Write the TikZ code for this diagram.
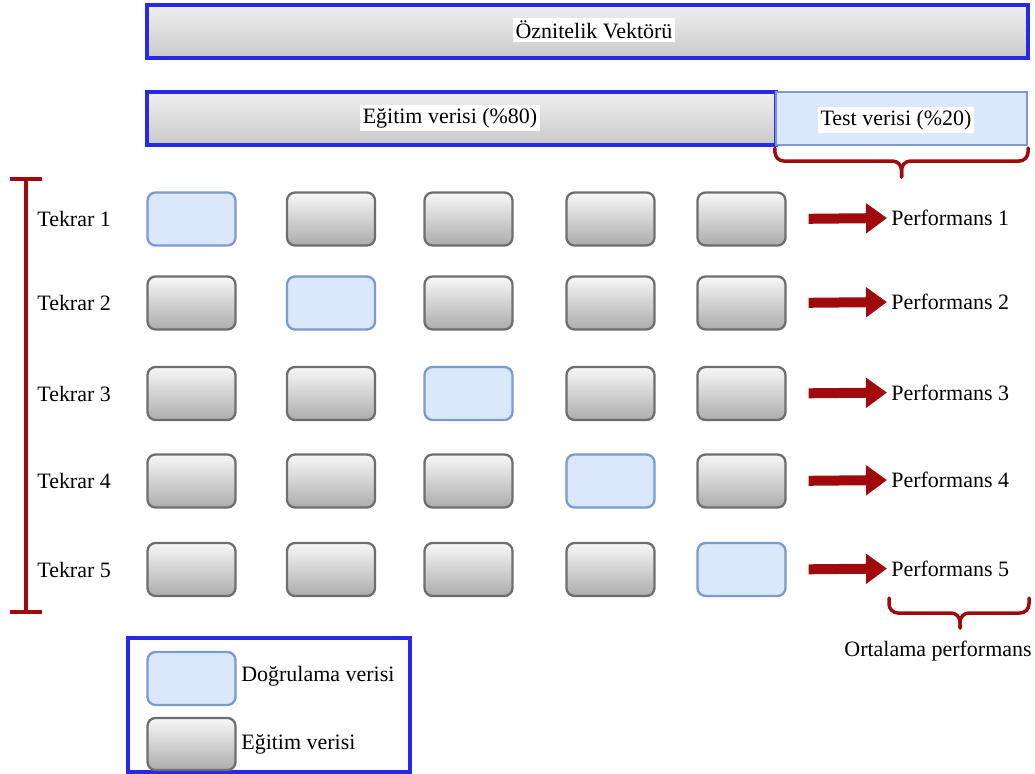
\documentclass[tikz,border=0pt]{standalone}
\usepackage{fontspec}
\setmainfont{Liberation Serif}
\usetikzlibrary{arrows.meta}
\newlength\upx
\setlength\upx{0.02cm}
\definecolor{frameblue}{RGB}{40,40,235}
\definecolor{valfill}{RGB}{219,231,251}
\definecolor{valdraw}{RGB}{122,155,208}
\definecolor{boxdraw}{RGB}{110,110,110}
\definecolor{darkred}{RGB}{160,10,12}
\begin{document}
\begin{tikzpicture}[x=0.02cm,y=-0.02cm,
  font=\fontsize{12.5}{14}\selectfont,
  bar/.style={draw=frameblue,line width=2pt,top color=gray!12,bottom color=gray!42,
    minimum height=53\upx,inner sep=0pt},
  barlabel/.style={fill=white,inner sep=1.5pt},
  cell/.style={rounded corners=8\upx,line width=1.3pt,minimum width=88\upx,
    minimum height=53\upx,inner sep=0pt},
  trainbox/.style={cell,draw=boxdraw,top color=gray!6,bottom color=gray!65},
  valbox/.style={cell,draw=valdraw,fill=valfill},
  rowlabel/.style={anchor=west,inner sep=0pt},
  bigarrow/.style={draw=darkred,line width=0.2cm,
    -{Triangle[length=0.42cm,width=0.58cm]},shorten <=22\upx,shorten >=4\upx},
  redbrace/.style={draw=darkred,line width=0.07cm,rounded corners=9\upx,line cap=round},
  redbar/.style={draw=darkred,line width=0.08cm}
]
\useasboundingbox (0,0) rectangle (1035,774);

% feature vector and the train/test split
\node[bar,minimum width=881\upx] (feat) at (587.5,31.5) {};
\node[barlabel] (featlabel) at (594,30) {Öznitelik Vektörü};
\node[bar,minimum width=629\upx] (train) at (461.5,118.5) {};
\node[barlabel] (trainlabel) at (450,118) {Eğitim verisi (\%80)};
\node[draw=valdraw,line width=1.2pt,fill=valfill,minimum width=251\upx,
  minimum height=53\upx,inner sep=0pt] (test) at (901.5,118.5) {};
\node[barlabel] (testlabel) at (896,120) {Test verisi (\%20)};

% curly bracket under the test part
\draw[redbrace] ([yshift=-2\upx]test.south west) |- ([yshift=-15\upx]test.south)
  -- ([yshift=-31\upx]test.south);
\draw[redbrace] ([yshift=-2\upx]test.south east) |- ([yshift=-15\upx]test.south)
  -- ([yshift=-31\upx]test.south);

% five folds: the validation fold moves along the diagonal
\foreach \r/\y in {1/219,2/303,3/393.5,4/481,5/569.5}{
  \node[rowlabel] (t\r) at (37,\y) {Tekrar \r};
  \foreach \c/\x in {1/191.5,2/331,3/468.5,4/610.5,5/741.5}{
    \ifnum\r=\c
      \node[valbox] (b\r\c) at (\x,\y) {};
    \else
      \node[trainbox] (b\r\c) at (\x,\y) {};
    \fi
  }
  \node[rowlabel] (p\r) at (891,\y-1) {Performans \r};
  \draw[bigarrow] (b\r5.east) -- (p\r.west);
}

% bracket spanning all repetitions
\coordinate (vtop) at (26,179);
\coordinate (vbot) at (26,612);
\draw[redbar] (vtop) -- (vbot);
\draw[redbar] ([xshift=-16\upx]vtop) -- ([xshift=16\upx]vtop);
\draw[redbar] ([xshift=-16\upx]vbot) -- ([xshift=16\upx]vbot);

% averaging of the fold scores
\coordinate (avgl) at (889,598);
\coordinate (avgr) at (1029,598);
\coordinate (avgm) at (960,613);
\coordinate (avgtip) at (960,628);
\draw[redbrace] (avgl) |- (avgm) -- (avgtip);
\draw[redbrace] (avgr) |- (avgm) -- (avgtip);
\node (avg) at (938,651) {Ortalama performans};

% legend
\node[draw=frameblue,line width=2pt,minimum width=282\upx,minimum height=134\upx,
  inner sep=0pt] (legend) at (269,705) {};
\node[valbox,minimum height=53\upx] (lval) at (191.5,678.5) {};
\node[rowlabel] (lvaltext) at (241,676) {Doğrulama verisi};
\node[trainbox,minimum height=52\upx] (ltrain) at (191.5,744) {};
\node[rowlabel] (ltraintext) at (241,744) {Eğitim verisi};
\end{tikzpicture}
\end{document}
